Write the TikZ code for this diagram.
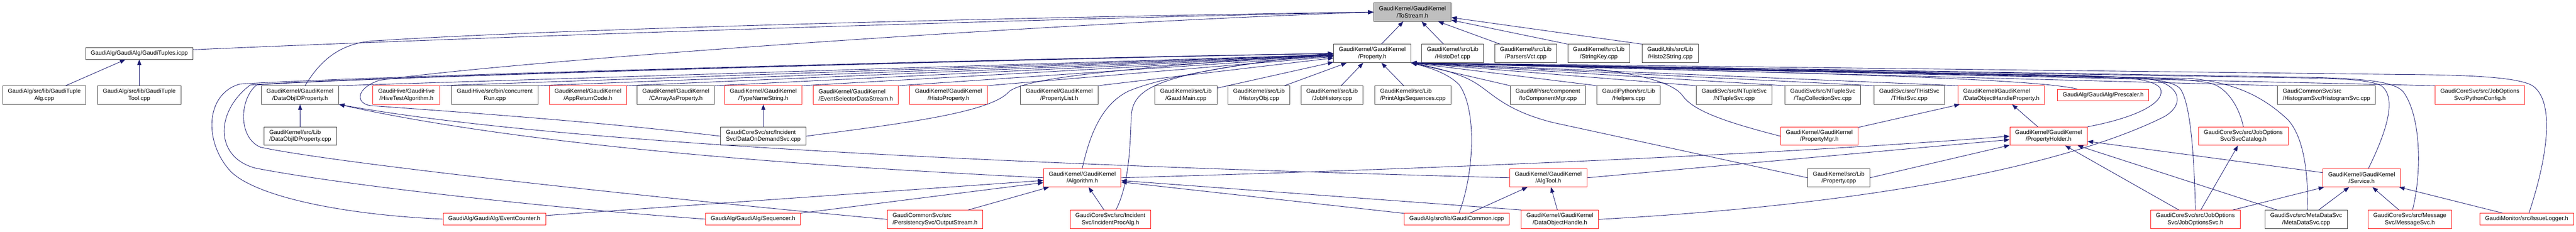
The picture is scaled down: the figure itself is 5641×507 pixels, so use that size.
\documentclass[tikz,border=0pt]{standalone}
\usepackage{fontspec}
\newfontfamily\dotfont{Liberation Sans}
\usetikzlibrary{arrows.meta}
\definecolor{edgeblue}{RGB}{25,25,112}
\definecolor{mainfill}{RGB}{191,191,191}
\definecolor{truncred}{RGB}{255,20,20}

\begin{document}
\begin{tikzpicture}[x=1bp,y=-1bp,
  file/.style={draw=black!75, fill=white, line width=1.1bp, inner xsep=11.5bp, inner ysep=3bp,
    minimum height=40bp, align=center, font={\dotfont\fontsize{12.9}{15.2}\selectfont}},
  oneline/.style={file, minimum height=25.5bp},
  trunc/.style={draw=truncred},
  focus/.style={fill=mainfill},
  incl/.style={draw=edgeblue, line width=1bp, -{Triangle[length=12bp,width=9bp]}}]
  \useasboundingbox (0,0) rectangle (5641,507);

  \node[file,focus] (tostream) at (3093,26.5) {GaudiKernel/GaudiKernel\\/ToStream.h};
  \node[oneline] (tuples) at (305,117) {GaudiAlg/GaudiAlg/GaudiTuples.icpp};
  \node[file] (property) at (3005,117) {GaudiKernel/GaudiKernel\\/Property.h};
  \node[file] (histodef) at (3181,117) {GaudiKernel/src/Lib\\/HistoDef.cpp};
  \node[file] (parsersvct) at (3341,117) {GaudiKernel/src/Lib\\/ParsersVct.cpp};
  \node[file] (stringkey) at (3501,117) {GaudiKernel/src/Lib\\/StringKey.cpp};
  \node[file] (histostring) at (3657.5,117) {GaudiUtils/src/Lib\\/Histo2String.cpp};

  \node[file] (tuplealg) at (97,208) {GaudiAlg/src/lib/GaudiTuple\\Alg.cpp};
  \node[file] (tupletool) at (305,208) {GaudiAlg/src/lib/GaudiTuple\\Tool.cpp};
  \node[file] (dataobjidprop) at (657,208) {GaudiKernel/GaudiKernel\\/DataObjIDProperty.h};
  \node[file,trunc] (hivetest) at (890,208) {GaudiHive/GaudiHive\\/HiveTestAlgorithm.h};
  \node[file] (concurrent) at (1083.5,208) {GaudiHive/src/bin/concurrent\\Run.cpp};
  \node[file,trunc] (appreturn) at (1287.5,208) {GaudiKernel/GaudiKernel\\/AppReturnCode.h};
  \node[file] (carray) at (1480,208) {GaudiKernel/GaudiKernel\\/CArrayAsProperty.h};
  \node[file,trunc] (typename) at (1671.5,208) {GaudiKernel/GaudiKernel\\/TypeNameString.h};
  \node[file,trunc,align=left] (evtseldata) at (1874,208) {GaudiKernel/GaudiKernel\\/EventSelectorDataStream.h};
  \node[file,trunc] (histoprop) at (2077,208) {GaudiKernel/GaudiKernel\\/HistoProperty.h};
  \node[file] (proplist) at (2319.5,208) {GaudiKernel/GaudiKernel\\/PropertyList.h};
  \node[file] (gaudimain) at (2597,208) {GaudiKernel/src/Lib\\/GaudiMain.cpp};
  \node[file] (historyobj) at (2757,208) {GaudiKernel/src/Lib\\/HistoryObj.cpp};
  \node[file] (jobhistory) at (2917,208) {GaudiKernel/src/Lib\\/JobHistory.cpp};
  \node[file,align=left] (printalgs) at (3094,208) {GaudiKernel/src/Lib\\/PrintAlgsSequences.cpp};
  \node[file] (iocompmgr) at (3389.5,208) {GaudiMP/src/component\\/IoComponentMgr.cpp};
  \node[file] (helpers) at (3566.5,208) {GaudiPython/src/Lib\\/Helpers.cpp};
  \node[file] (ntuplesvc) at (3797.5,208) {GaudiSvc/src/NTupleSvc\\/NTupleSvc.cpp};
  \node[file] (tagcoll) at (3991.5,208) {GaudiSvc/src/NTupleSvc\\/TagCollectionSvc.cpp};
  \node[file] (thistsvc) at (4181,208) {GaudiSvc/src/THistSvc\\/THistSvc.cpp};
  \node[file,trunc,align=left] (dohprop) at (4382.5,208) {GaudiKernel/GaudiKernel\\/DataObjectHandleProperty.h};
  \node[oneline,trunc] (prescaler) at (4605.5,208) {GaudiAlg/GaudiAlg/Prescaler.h};
  \node[file,align=left] (histosvc) at (5094.5,208) {GaudiCommonSvc/src\\/HistogramSvc/HistogramSvc.cpp};
  \node[file,trunc] (pythonconfig) at (5430.5,208) {GaudiCoreSvc/src/JobOptions\\Svc/PythonConfig.h};

  \node[file,align=left] (dataobjidcpp) at (657.5,298) {GaudiKernel/src/Lib\\/DataObjIDProperty.cpp};
  \node[file,align=left] (dataondemand) at (1671.5,298) {GaudiCoreSvc/src/Incident\\Svc/DataOnDemandSvc.cpp};
  \node[file,trunc] (propmgr) at (3984,298) {GaudiKernel/GaudiKernel\\/PropertyMgr.h};
  \node[file,trunc] (propholder) at (4486,298) {GaudiKernel/GaudiKernel\\/PropertyHolder.h};
  \node[file,trunc] (svccatalog) at (4912.5,298) {GaudiCoreSvc/src/JobOptions\\Svc/SvcCatalog.h};

  \node[file,trunc] (algorithm) at (2370,389) {GaudiKernel/GaudiKernel\\/Algorithm.h};
  \node[file,trunc] (algtool) at (3390.5,389) {GaudiKernel/GaudiKernel\\/AlgTool.h};
  \node[file] (propertycpp) at (4026.5,389) {GaudiKernel/src/Lib\\/Property.cpp};
  \node[file,trunc] (service) at (5171.5,389) {GaudiKernel/GaudiKernel\\/Service.h};

  \node[oneline,trunc] (eventcounter) at (1082.5,479.5) {GaudiAlg/GaudiAlg/EventCounter.h};
  \node[oneline,trunc] (sequencer) at (1649,479.5) {GaudiAlg/GaudiAlg/Sequencer.h};
  \node[file,trunc,align=left] (outputstream) at (2047.5,480) {GaudiCommonSvc/src\\/PersistencySvc/OutputStream.h};
  \node[file,trunc] (incidentproc) at (2431.5,480) {GaudiCoreSvc/src/Incident\\Svc/IncidentProcAlg.h};
  \node[oneline,trunc] (gaudicommon) at (3190,479.5) {GaudiAlg/src/lib/GaudiCommon.icpp};
  \node[file,trunc] (dohandle) at (3416,480) {GaudiKernel/GaudiKernel\\/DataObjectHandle.h};
  \node[file,trunc] (joboptsvc) at (4807.5,480) {GaudiCoreSvc/src/JobOptions\\Svc/JobOptionsSvc.h};
  \node[file] (metadatasvc) at (5050,480) {GaudiSvc/src/MetaDataSvc\\/MetaDataSvc.cpp};
  \node[file,trunc] (messagesvc) at (5277,480) {GaudiCoreSvc/src/Message\\Svc/MessageSvc.h};
  \node[oneline,trunc] (issuelogger) at (5533,479.5) {GaudiMonitor/src/IssueLogger.h};

  \draw[incl] (tuplealg) -- (tuples);
  \draw[incl] (tupletool) -- (tuples);
  \draw[incl] (tuples.4) .. controls (1200,75) and (2400,38) .. (tostream.west);
  \draw[incl] ([xshift=11bp]dataobjidprop.north) .. controls (700,135) and (740,98) .. (810,90)
    .. controls (1300,58) and (2500,33) .. (tostream.west);
  \draw[incl] (dataondemand.west) .. controls (1300,265) and (1000,245) .. (810,231)
    .. controls (778,225) and (780,193) .. (830,176) .. controls (1100,135) and (2300,50) .. (tostream.west);
  \draw[incl] (property) -- (tostream);
  \draw[incl] (histodef) -- (tostream);
  \draw[incl] (parsersvct) -- (tostream);
  \draw[incl] (stringkey.north west) -- (tostream);
  \draw[incl] (histostring.north west) -- (tostream);

  \draw[incl] (dataobjidprop.north east) -- (property);
  \draw[incl] (hivetest.north east) -- (property);
  \draw[incl] (concurrent.north east) -- (property);
  \draw[incl] (appreturn.north east) -- (property);
  \draw[incl] (carray.north east) -- (property);
  \draw[incl] (typename.north east) -- (property);
  \draw[incl] (evtseldata.north east) -- (property);
  \draw[incl] (histoprop.north east) -- (property);
  \draw[incl] (proplist.north east) -- (property);
  \draw[incl] (gaudimain) -- (property);
  \draw[incl] (historyobj) -- (property);
  \draw[incl] (jobhistory) -- (property);
  \draw[incl] (printalgs) -- (property);
  \draw[incl] (iocompmgr.north west) -- (property.south east);
  \draw[incl] (helpers.north west) -- (property.south east);
  \draw[incl] (ntuplesvc.north west) -- (property.south east);
  \draw[incl] (tagcoll.north west) -- (property.south east);
  \draw[incl] (thistsvc.north west) -- (property.south east);
  \draw[incl] (dohprop.north west) -- (property.south east);
  \draw[incl] ([xshift=44bp]prescaler.north west) .. controls (4450,172) and (4000,160) .. (property.south east);
  \draw[incl] (histosvc.north west) -- (property.south east);
  \draw[incl] (pythonconfig.north west) -- (property.south east);

  \draw[incl] (dataobjidcpp) -- (dataobjidprop);
  \draw[incl] (dataondemand) -- (typename);
  \draw[incl] (dataondemand.east) .. controls (1960,272) and (2170,248) .. (2210,200)
    .. controls (2250,170) and (2450,150) .. (property.west);
  \draw[incl] (propmgr) -- (dohprop);
  \draw[incl] (propmgr.west) .. controls (3790,270) and (3710,245) .. (3685,210)
    .. controls (3665,180) and (3580,158) .. (3450,147) -- (property.south east);
  \draw[incl] (propholder) -- (dohprop);
  \draw[incl] (propholder.north east) .. controls (4690,255) and (4745,220) .. (4730,192)
    .. controls (4712,172) and (4650,168) .. (4550,165) -- (property.south east);
  \draw[incl] (svccatalog.north) .. controls (4905,240) and (4880,192) .. (4840,182)
    .. controls (4800,174) and (4750,172) .. (4650,169) -- (property.south east);

  \draw[incl] (algorithm.west) .. controls (1900,370) and (1200,330) .. (dataobjidprop.south east);
  \draw[incl] (algtool.west) .. controls (2600,370) and (1300,330) .. (dataobjidprop.south east);
  \draw[incl] (algorithm.north) .. controls (2385,300) and (2410,230) .. (2470,200)
    .. controls (2550,165) and (2750,135) .. (property.west);
  \draw[incl] (algorithm.east) .. controls (3300,365) and (4000,330) .. (propholder.west);
  \draw[incl] (algtool.east) -- (propholder);
  \draw[incl] (propertycpp.east) -- (propholder);
  \draw[incl] (propertycpp.west) -- (3400,268) .. controls (3290,240) and (3265,200) .. (3225,178)
    .. controls (3190,158) and (3130,145) .. (property.south east);

  \draw[incl] (eventcounter) -- (algorithm);
  \draw[incl] (sequencer) -- (algorithm);
  \draw[incl] (outputstream) -- (algorithm);
  \draw[incl] (incidentproc) -- (algorithm);
  \draw[incl] (gaudicommon) -- (algorithm);
  \draw[incl] (dohandle.north west) -- (algorithm);
  \draw[incl] (eventcounter.west) .. controls (750,470) and (560,430) .. (505,375)
    .. controls (445,310) and (450,205) .. (525,184) .. controls (800,166) and (2300,126) .. (property.west);
  \draw[incl] (sequencer.west) .. controls (1200,455) and (750,405) .. (560,368)
    .. controls (470,345) and (470,245) .. (548,186) .. controls (800,167) and (2300,127) .. (property.west);
  \draw[incl] (outputstream.west) .. controls (1400,430) and (720,355) .. (570,322)
    .. controls (520,300) and (525,215) .. (562,186) .. controls (800,168) and (2300,128) .. (property.west);
  \draw[incl] ([xshift=12bp]incidentproc.north) .. controls (2475,400) and (2475,300) .. (2477,260)
    .. controls (2478,190) and (2530,160) .. (property.west);

  \draw[incl] (gaudicommon) -- (algtool);
  \draw[incl] (dohandle) -- (algtool);
  \draw[incl] ([xshift=5bp]gaudicommon.north) .. controls (3228,380) and (3235,240) .. (3195,185)
    .. controls (3170,160) and (3130,148) .. (property.south east);
  \draw[incl] (dohandle.east) .. controls (4150,445) and (4550,350) .. (4740,255)
    .. controls (4790,225) and (4770,180) .. (4700,172) -- (property.south east);

  \draw[incl] (service) -- (propholder);
  \draw[incl] (metadatasvc) -- (propholder);
  \draw[incl] (joboptsvc) -- (propholder);
  \draw[incl] (joboptsvc) -- (svccatalog);
  \draw[incl] (joboptsvc) -- (service);
  \draw[incl] (metadatasvc) -- (service);
  \draw[incl] (messagesvc) -- (service);
  \draw[incl] (issuelogger) -- (service);
  \draw[incl] (joboptsvc.north) .. controls (4805,350) and (4798,230) .. (4775,195)
    .. controls (4760,176) and (4700,170) .. (4600,167) -- (property.south east);
  \draw[incl] ([xshift=3bp]metadatasvc.north) .. controls (5055,380) and (5045,300) .. (5010,262)
    .. controls (4960,215) and (4900,182) .. (4800,172) -- (property.south east);
  \draw[incl] ([xshift=15bp]service.north) .. controls (5225,290) and (5250,215) .. (5215,188)
    .. controls (5190,174) and (5120,171) .. (5000,170) -- (property.south east);
  \draw[incl] ([xshift=6bp]messagesvc.north) .. controls (5305,370) and (5300,250) .. (5262,200)
    .. controls (5240,178) and (5180,172) .. (5050,169) -- (property.south east);
  \draw[incl] ([xshift=5bp]issuelogger.north) .. controls (5580,340) and (5595,220) .. (5545,187)
    .. controls (5510,168) and (5400,164) .. (5261,163) -- (property.south east);
\end{tikzpicture}
\end{document}
